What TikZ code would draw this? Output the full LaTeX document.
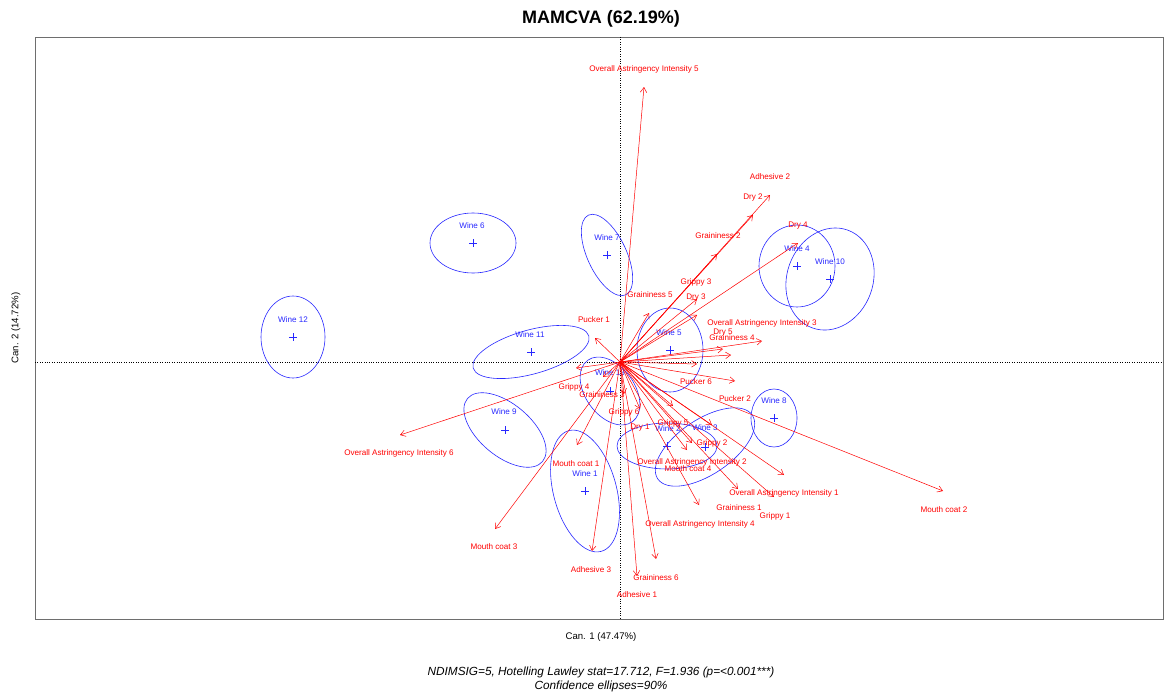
\documentclass[tikz,border=0pt]{standalone}
\usepackage{fontspec}
\setmainfont{Liberation Sans}
\usetikzlibrary{arrows.meta}
\definecolor{rred}{RGB}{255,0,0}
\definecolor{rblue}{RGB}{40,40,255}
\definecolor{boxgray}{RGB}{110,110,110}
\begin{document}
\begin{tikzpicture}[x=1pt,y=-1pt,
  arr/.style={draw=rred, line width=0.5pt, -{Straight Barb[length=5pt,width=6.5pt]}},
  lab/.style={text=rred, font=\fontsize{8.1}{9}\selectfont, inner sep=0pt, text height=5.8pt, text depth=0pt},
  wlab/.style={text=rblue, font=\fontsize{8.1}{9}\selectfont, inner sep=0pt, text height=5.8pt, text depth=0pt},
  ell/.style={draw=rblue, line width=0.6pt},
  wplus/.style={inner sep=0pt, minimum size=8pt, path picture={\draw[rblue, line width=0.6pt] (path picture bounding box.north) -- (path picture bounding box.south) (path picture bounding box.west) -- (path picture bounding box.east);}},
  axisline/.style={line width=0.5pt, dash pattern=on 1pt off 1.4pt},
  plotbox/.style={draw=boxgray, line width=0.8pt}]
\fill[white] (0,0) rectangle (1164,693);
\useasboundingbox (0,0) rectangle (1164,693);
% frame and axes
\draw[plotbox] (35,37) rectangle (1163,619);
\coordinate (O) at (620,362);
\coordinate (vt) at (620,37);
\coordinate (vb) at (620,619);
\coordinate (hl) at (35,362);
\coordinate (hr) at (1163,362);
\draw[axisline] (vt) -- (vb);
\draw[axisline] (hl) -- (hr);
% titles
\node[font=\fontsize{18}{20}\bfseries\selectfont, inner sep=0pt] (title) at (601,19) {MAMCVA (62.19\%)};
\node[font=\fontsize{9.6}{11}\selectfont, inner sep=0pt] (xlab) at (601,637) {Can. 1 (47.47\%)};
\node[font=\fontsize{9.6}{11}\selectfont, inner sep=0pt, rotate=90] (ylab) at (16,328) {Can. 2 (14.72\%)};
\node[font=\fontsize{11.8}{14}\itshape\selectfont, inner sep=0pt, align=center] (sub) at (601,679) {NDIMSIG=5, Hotelling Lawley stat=17.712, F=1.936 (p=<0.001***)\\Confidence ellipses=90\%};
% wines
\foreach \n/\cx/\cy/\rx/\ry/\rot/\lx/\ly/\t in {
  w6/473/243/43/30/0/472/226/Wine 6,
  w7/607/255/19.5/44/25/607/238/Wine 7,
  w12/293/337/32/41/0/293/320/Wine 12,
  w11/531/352/60/22/15.5/530/335/Wine 11,
  w4/797/266/38/41/0/797/249/Wine 4,
  w10/830/279/43/52/-20/830/262/Wine 10,
  w5/670/350/33/42/0/669/333/Wine 5,
  w13/610/391/24.5/38/36/610/373/Wine 13,
  w9/505/430/49/26/-40/504/412/Wine 9,
  w1/585/491/31.5/62.5/15/585/474/Wine 1,
  w2/667/446/50/23/0/668/429/Wine 2,
  w3/705/447/57/27.5/34/705/428/Wine 3,
  w8/774/418/23/29/0/774/401/Wine 8}
{
  \node[wplus] (p\n) at (\cx,\cy) {};
  \draw[ell, rotate around={\rot:(p\n)}] (p\n) ellipse [x radius=\rx, y radius=\ry];
  \node[wlab] (l\n) at (\lx,\ly) {\t};
}
% attribute arrows
\foreach \n/\tx/\ty/\lx/\ly/\t in {
  oai5/644/87/644/69/Overall Astringency Intensity 5,
  adh2/770/195/770/177/Adhesive 2,
  dry2/753/215/753/197/Dry 2,
  dry4/798/243/798/225/Dry 4,
  gra2/717/254/718/236/Graininess 2,
  gri3/697/299/696/282/Grippy 3,
  dry3/697/315/696/297/Dry 3,
  gra5/649/313/650/295/Graininess 5,
  puc1/595/338/594/320/Pucker 1,
  oai3/762/341/762/323/Overall Astringency Intensity 3,
  dry5/723/349/723/332/Dry 5,
  gra4/731/355/732/338/Graininess 4,
  puc6/697/364/696/382/Pucker 6,
  gri4/576/368/574/387/Grippy 4,
  gra3/603/377/602/395/Graininess 3,
  gri6/624/394/624/412/Grippy 6,
  puc2/735/381/735/399/Pucker 2,
  dry1/640/409/640/427/Dry 1,
  gri5/673/406/673/423/Grippy 5,
  gri2/712/425/712/443/Grippy 2,
  oai2/692/443/692/462/Overall Astringency Intensity 2,
  mc4/687/450/688/469/Mouth coat 4,
  mc1/577/445/576/464/Mouth coat 1,
  oai1/784/475/784/493/Overall Astringency Intensity 1,
  gra1/738/489/739/508/Graininess 1,
  gri1/774/497/775/516/Grippy 1,
  oai4/699/505/700/524/Overall Astringency Intensity 4,
  mc2/943/491/944/510/Mouth coat 2,
  adh3/592/551/591/570/Adhesive 3,
  gra6/656/559/656/578/Graininess 6,
  adh1/637/576/637/595/Adhesive 1,
  mc3/495/529/494/547/Mouth coat 3,
  oai6/400/435/399/453/Overall Astringency Intensity 6}
{
  \coordinate (t\n) at (\tx,\ty);
  \draw[arr] (O) -- (t\n);
  \node[lab] (a\n) at (\lx,\ly) {\t};
}
\end{tikzpicture}
\end{document}
